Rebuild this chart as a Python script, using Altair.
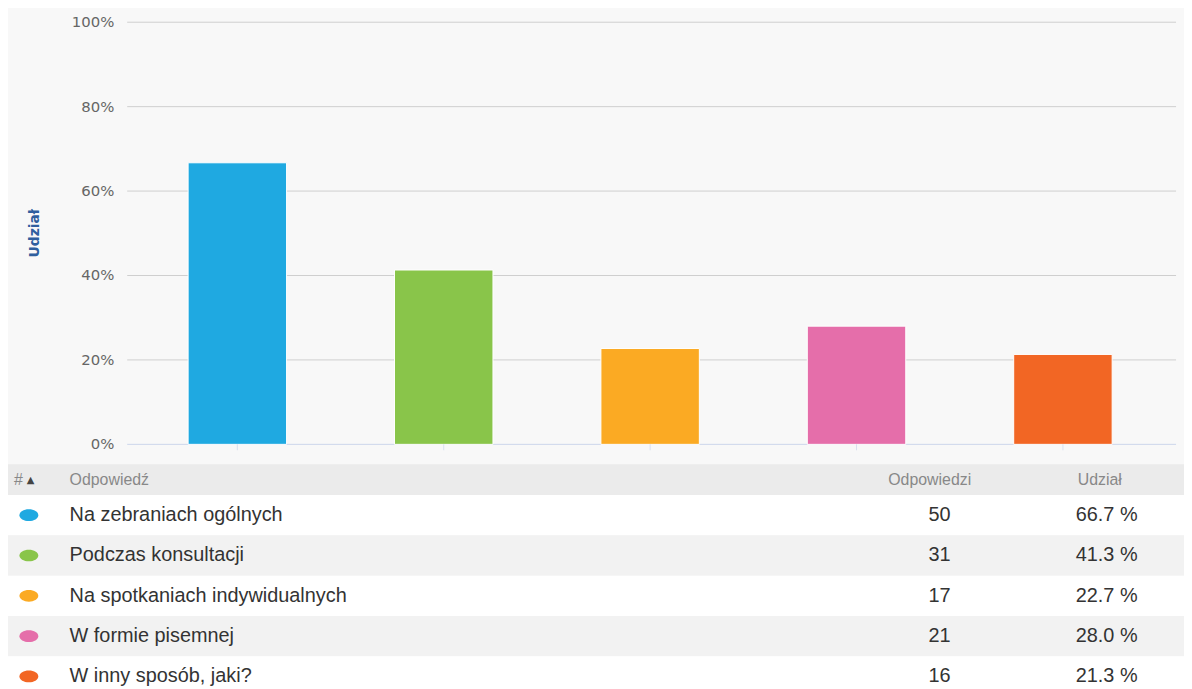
import altair as alt
import pandas as pd

# ---------------- data ----------------
categories = [
    "Na zebraniach ogólnych",
    "Podczas konsultacji",
    "Na spotkaniach indywidualnych",
    "W formie pisemnej",
    "W inny sposób, jaki?",
]
counts = [50, 31, 17, 21, 16]
shares = [66.7, 41.3, 22.7, 28.0, 21.3]
colors = ["#1fa9e1", "#89c54a", "#fbaa23", "#e56eaa", "#f26624"]
y_ticks = [0, 20, 40, 60, 80, 100]
y_title = "Udział"
header_labels = ["#", "▲", "Odpowiedź", "Odpowiedzi", "Udział"]

df = pd.DataFrame({"cat": categories, "count": counts, "share": shares,
                   "idx": list(range(len(categories)))})
ticks_df = pd.DataFrame({"v": y_ticks})
one = pd.DataFrame({"k": [0]})

# ---------------- layout (pixels, relative to the plot area) ----------------
PAD_L, PAD_R = 120, 8
W, H = 1056, 681          # plot area (grid spans its full width)
Y0, Y100 = 437, 12        # 0% and 100% positions
BAND = [7, 1046]
ROW_TOP, ROW_H = 488, 40.6
HDR = [457, 488]
T_LEFT, T_RIGHT = -PAD_L, W + PAD_R

x_scale = alt.Scale(domain=categories, range=BAND, paddingInner=0.523, paddingOuter=0.2615)
y_scale = alt.Scale(domain=[0, 100], range=[Y0, Y100], nice=False, zero=True)
color_scale = alt.Scale(domain=categories, range=colors)

# ---------------- bar chart ----------------
grid = alt.Chart(ticks_df).transform_filter("datum.v > 0").mark_rule(
    color="#cfcfcf", strokeWidth=1
).encode(
    y=alt.Y("v:Q", scale=y_scale, axis=None),
    x=alt.value(0), x2=alt.value(W),
)

# y tick labels, placed through the same y scale
ylabels = alt.Chart(ticks_df).transform_calculate(
    lbl="datum.v + '%'"
).mark_text(align="right", baseline="middle", dx=-13, font="DejaVu Sans",
            fontSize=15, color="#666666").encode(
    y=alt.Y("v:Q", scale=y_scale, axis=None),
    x=alt.value(0), text="lbl:N",
)

ytitle = alt.Chart(one).mark_text(
    angle=270, align="center", baseline="middle", font="DejaVu Sans",
    fontSize=14, fontWeight="bold", color="#2f5f9e",
).encode(x=alt.value(-93), y=alt.value((Y0 + Y100) / 2), text=alt.value(y_title))

baseline = alt.Chart(ticks_df).transform_filter("datum.v == 0").mark_rule(
    color="#ccd6eb", strokeWidth=1
).encode(
    y=alt.Y("v:Q", scale=y_scale, axis=None),
    x=alt.value(0), x2=alt.value(W),
)

bars = alt.Chart(df).mark_bar(stroke="white", strokeWidth=1).encode(
    x=alt.X("cat:N", scale=x_scale, axis=None, sort=categories),
    y=alt.Y("share:Q", scale=y_scale, axis=None),
    color=alt.Color("cat:N", scale=color_scale, legend=None),
)

xticks = alt.Chart(df).transform_calculate(zero="0").mark_tick(
    orient="vertical", size=6, thickness=1, color="#ccd6eb", yOffset=3
).encode(
    x=alt.X("cat:N", scale=x_scale, axis=None, sort=categories),
    y=alt.Y("zero:Q", scale=y_scale, axis=None),
)

# ---------------- table (rows placed by their index, in pixels) ----------------
rows = alt.Chart(df).transform_calculate(
    y_top=f"{ROW_TOP} + datum.idx * {ROW_H}",
    y_bot=f"{ROW_TOP} + (datum.idx + 1) * {ROW_H}",
    y_mid=f"{ROW_TOP} + (datum.idx + 0.5) * {ROW_H}",
    pct="format(datum.share, '.1f') + ' %'",
)
row_mid = alt.Y("y_mid:Q", scale=None, axis=None)

rows_bg = rows.mark_rect().encode(
    y=alt.Y("y_top:Q", scale=None, axis=None), y2="y_bot:Q",
    x=alt.value(T_LEFT), x2=alt.value(T_RIGHT),
    color=alt.condition("datum.idx % 2 == 1", alt.value("#f2f2f2"), alt.value("#ffffff")),
)

hdr_bg = alt.Chart(one).mark_rect(color="#ebebeb").encode(
    x=alt.value(T_LEFT), x2=alt.value(T_RIGHT), y=alt.value(HDR[0]), y2=alt.value(HDR[1]),
)

hdr_pos = [(-114, "left", "#888888", 16), (-101, "left", "#444444", 10),
           (-58, "left", "#888888", 16), (808, "center", "#888888", 16),
           (957, "left", "#888888", 16)]
hdr_layers = []
for lab, (px, al, col, fs) in zip(header_labels, hdr_pos):
    hdr_layers.append(
        alt.Chart(one).mark_text(align=al, baseline="middle",
                                 font="DejaVu Sans" if lab == "▲" else "Liberation Sans",
                                 fontSize=fs, color=col).encode(
            x=alt.value(px), y=alt.value((HDR[0] + HDR[1]) / 2), text=alt.value(lab))
    )

ellipse = "M-1,0 A1,0.62 0 1,0 1,0 A1,0.62 0 1,0 -1,0 Z"
dots = rows.mark_point(filled=True, opacity=1, shape=ellipse, size=361).encode(
    y=row_mid, x=alt.value(-99),
    color=alt.Color("cat:N", scale=color_scale, legend=None),
)

txt_kw = dict(baseline="middle", font="Liberation Sans", fontSize=20, color="#333333")
names = rows.mark_text(align="left", **txt_kw).encode(
    y=row_mid, x=alt.value(-58), text="cat:N")
nums = rows.mark_text(align="right", **txt_kw).encode(
    y=row_mid, x=alt.value(829), text="count:Q")
pcts = rows.mark_text(align="left", **txt_kw).encode(
    y=row_mid, x=alt.value(955), text="pct:N")

chart = alt.layer(
    grid, ylabels, ytitle, baseline, bars, xticks,
    rows_bg, hdr_bg, *hdr_layers, dots, names, nums, pcts,
).properties(
    width=W, height=H,
    padding={"left": PAD_L, "top": 0, "right": PAD_R, "bottom": 0},
    autosize=alt.AutoSizeParams(type="none"),
    background="#f8f8f8",
).configure_view(stroke=None)

chart.save("out.html", embed_options={"renderer": "svg", "actions": False})
